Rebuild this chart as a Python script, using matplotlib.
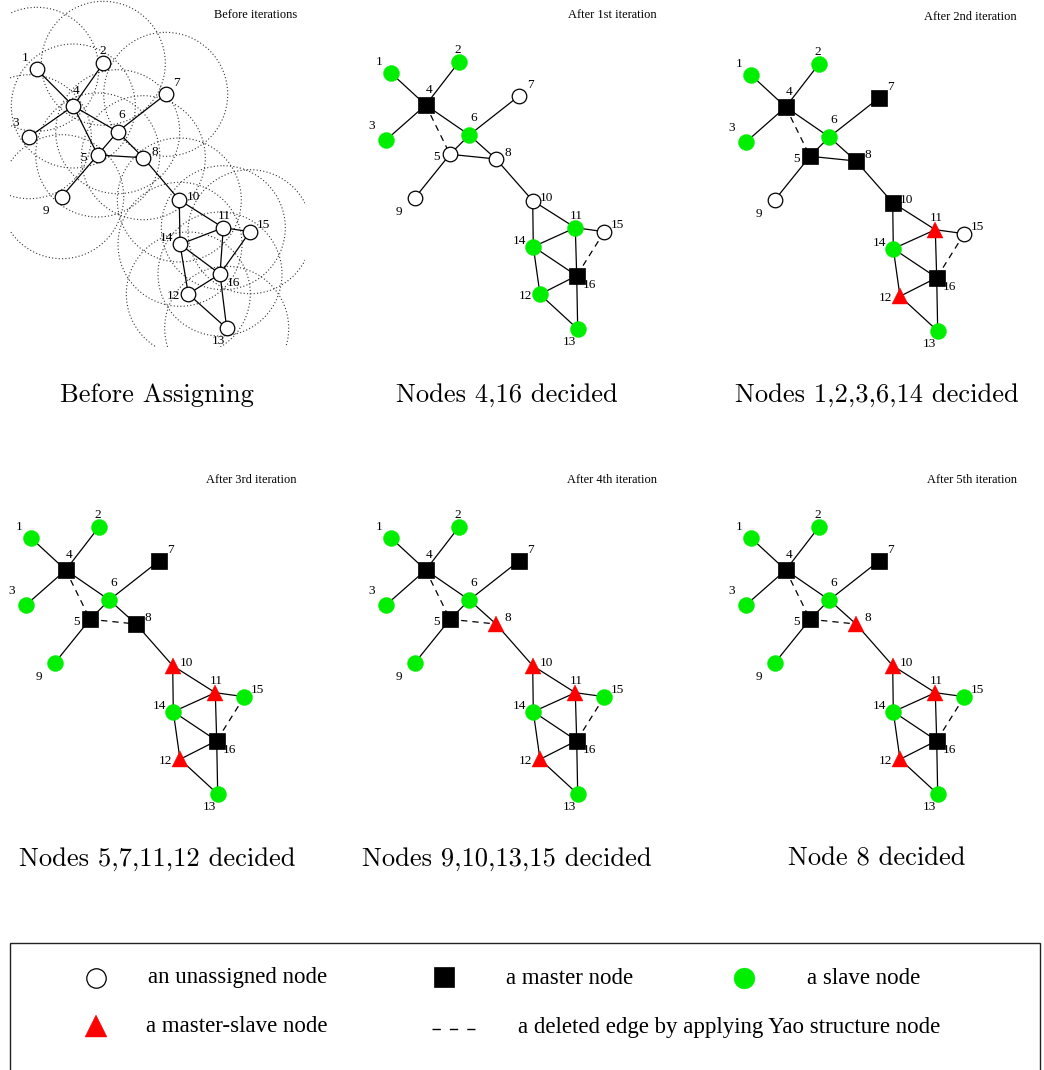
import matplotlib
matplotlib.use('Agg')
import matplotlib.pyplot as plt
from matplotlib.patches import Circle, Rectangle

# ---------------- data ----------------
node_ids = list(range(1, 17))

# node layout in the "Before iterations" panel (panel-local pixels)
before_x = [36.7, 103.3, 29.3, 73.3, 97.7, 117.7, 165.7, 143.3, 61.7, 179.3, 223.3, 188.3, 226.7, 180.0, 250.0, 220.0]
before_y = [69.3, 63.3, 136.7, 106.0, 155.0, 131.7, 94.3, 157.7, 196.7, 200.0, 227.7, 294.0, 328.3, 244.3, 231.7, 274.0]

# node layout in the "After ..." panels (panel-local pixels)
after_x = [30.7, 98.7, 26.0, 65.7, 90.0, 109.3, 159.3, 136.0, 55.0, 172.7, 215.3, 180.0, 217.7, 173.3, 244.3, 216.7]
after_y = [72.7, 62.3, 140.0, 105.0, 154.3, 135.0, 95.7, 159.0, 197.7, 200.7, 227.7, 294.3, 329.0, 246.7, 231.7, 275.7]

# label offsets relative to node
label_dx = [-12, -1, -14, 3, -14, 4, 11, 12, -16, 14, 1, -15, -8, -14, 13, 13]
label_dy = [-11, -12, -14, -15, 3, -17, -11, -6, 14, -3, -12, 2, 13, -6, -7, 9]

edges = [(1, 4), (2, 4), (3, 4), (4, 5), (4, 6), (5, 6), (5, 8), (6, 7), (6, 8), (5, 9),
         (8, 10), (10, 11), (10, 14), (11, 14), (11, 15), (11, 16), (14, 16), (12, 14),
         (12, 16), (12, 13), (13, 16), (15, 16)]

range_radius = 62  # transmission range in "Before iterations"

panel_titles = ["Before iterations", "After 1st iteration", "After 2nd iteration",
                "After 3rd iteration", "After 4th iteration", "After 5th iteration"]
panel_captions = ["Before Assigning", "Nodes 4,16 decided", "Nodes 1,2,3,6,14 decided",
                  "Nodes 5,7,11,12 decided", "Nodes 9,10,13,15 decided", "Node 8 decided"]

# U = unassigned, M = master, S = slave, X = master-slave  (nodes 1..16)
panel_states = ["UUUUUUUUUUUUUUUU",
                "SSSMUSUUUUSSSSUM",
                "SSSMMSMMUMXXSSUM",
                "SSSMMSMMSXXXSSSM",
                "SSSMMSMXSXXXSSSM",
                "SSSMMSMXSXXXSSSM"]

panel_deleted = [[],
                 [(4, 5), (15, 16)],
                 [(4, 5), (15, 16)],
                 [(4, 5), (5, 8), (15, 16)],
                 [(4, 5), (5, 8), (15, 16)],
                 [(4, 5), (5, 8), (15, 16)]]

legend_labels = ["an unassigned node", "a master node", "a slave node",
                 "a master-slave node", "a deleted edge by applying Yao structure node"]

# ---------------- layout / style ----------------
W, H = 1044, 1070
fig = plt.figure(figsize=(W / 100, H / 100), dpi=100)
ax = fig.add_axes([0, 0, 1, 1])
ax.set_xlim(0, W)
ax.set_ylim(H, 0)
ax.axis('off')

panel_origin = [(0, 0), (360, 0), (720, 2), (0, 465), (360, 465), (720, 465)]
caption_xy = [(157, 395), (506.5, 395), (877, 395), (157, 859), (506.5, 859), (877, 859)]

GREEN = '#00ee00'
RED = '#ff0000'
small_font = 'Liberation Serif'

style = {
    'U': dict(marker='o', ms=10.5, mfc='white', mec='black', mew=0.9),
    'M': dict(marker='s', ms=11, mfc='black', mec='black', mew=0.5),
    'S': dict(marker='o', ms=11.5, mfc=GREEN, mec=GREEN, mew=0.3),
    'X': dict(marker='^', ms=12, mfc=RED, mec=RED, mew=0.3),
}

for p in range(6):
    ox, oy = panel_origin[p]
    if p == 0:
        xs = [ox + v for v in before_x]
        ys = [oy + v for v in before_y]
    else:
        xs = [ox + v for v in after_x]
        ys = [oy + v for v in after_y]

    # range circles (first panel only)
    if p == 0:
        clip_rect = Rectangle((10, 0), 295, 347, transform=ax.transData)
        for i in range(16):
            c = Circle((xs[i], ys[i]), range_radius, fill=False, ec='#333333',
                       lw=0.8, ls=(0, (1, 2)), zorder=1)
            ax.add_patch(c)
            c.set_clip_path(clip_rect)

    deleted = set(tuple(sorted(e)) for e in panel_deleted[p])
    for a, b in edges:
        x0, y0 = xs[a - 1], ys[a - 1]
        x1, y1 = xs[b - 1], ys[b - 1]
        if tuple(sorted((a, b))) in deleted:
            ax.plot([x0, x1], [y0, y1], color='black', lw=0.9, dashes=(5, 4), zorder=2)
        else:
            ax.plot([x0, x1], [y0, y1], color='black', lw=0.9, zorder=2)

    states = panel_states[p]
    for i in range(16):
        ax.plot([xs[i]], [ys[i]], ls='none', zorder=3, **style[states[i]])
        ax.text(xs[i] + label_dx[i], ys[i] + label_dy[i], str(node_ids[i]),
                fontsize=9.5, family=small_font, ha='center', va='center', zorder=4)

    ax.text(ox + 297, oy + 15, panel_titles[p], fontsize=8.9, family=small_font,
            ha='right', va='center')
    cx, cy = caption_xy[p]
    ax.text(cx, cy, panel_captions[p], fontsize=19.1, family='cmr10',
            ha='center', va='center')

# ---------------- legend ----------------
ax.add_patch(Rectangle((10, 943), 1030, 200, fill=False, ec='#222222', lw=1.0))
lx = [96, 444, 744, 96]
ly = [978, 977, 978, 1026]
lstyle = ['U', 'M', 'S', 'X']
lms = [14, 14, 15, 16]
for k in range(4):
    st = dict(style[lstyle[k]])
    st['ms'] = lms[k]
    ax.plot([lx[k]], [ly[k]], ls='none', **st)
ax.plot([432, 475], [1028.5, 1028.5], color='black', lw=1.0, dashes=(6, 6.5))

tx = [148, 506, 807, 146, 518]
ty = [978, 978, 978, 1027, 1027]
for k in range(5):
    ax.text(tx[k], ty[k], legend_labels[k], fontsize=16.5, family=small_font,
            ha='left', va='center')

fig.savefig('out.png', dpi=100)
